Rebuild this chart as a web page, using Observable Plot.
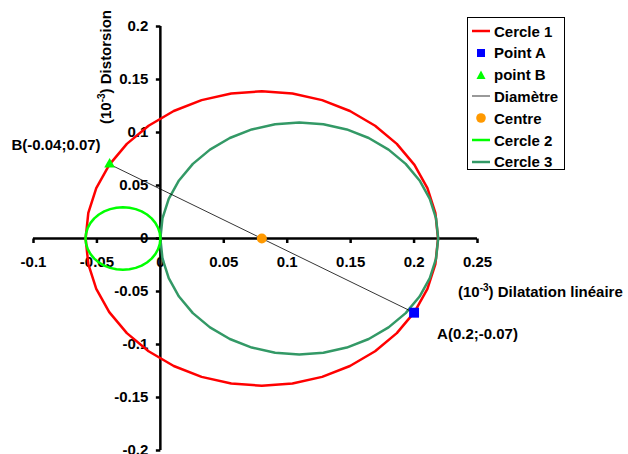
<!DOCTYPE html>
<html>
<head>
<meta charset="utf-8">
<script src="https://cdn.jsdelivr.net/npm/d3@7"></script>
<script src="https://cdn.jsdelivr.net/npm/@observablehq/plot@0.6"></script>
<style>
  html, body { margin: 0; padding: 0; background: #fff; }
  #wrap { position: relative; width: 628px; height: 454px; overflow: hidden;
          font-family: Arial, "Liberation Sans", sans-serif; font-weight: bold; }
  #legend { position: absolute; left: 467px; top: 17px; width: 96px; height: 151px;
            border: 1px solid #000; background: #fff; font-size: 15px; }
  .row { position: absolute; left: 0; height: 20px; display: flex; align-items: center; white-space: nowrap; }
  .row svg { margin-left: 4px; margin-right: 4px; }
</style>
</head>
<body>
<div id="wrap"><div id="chart"></div><div id="legend"></div></div>
<script>
// ---- data ----
const xTicks = [-0.1, -0.05, 0, 0.05, 0.1, 0.15, 0.2, 0.25];
const yTicks = [0.2, 0.15, 0.1, 0.05, 0, -0.05, -0.1, -0.15, -0.2];
const circleNames   = ["Cercle 1", "Cercle 2", "Cercle 3"];
const circleCenters = [0.08, -0.0295, 0.1095];
const circleRadii   = [0.1389, 0.0295, 0.1095];
const circleColors  = ["#ff0000", "#00ff00", "#339966"];
const pointA = {x: 0.2, y: -0.07, label: "A(0.2;-0.07)"};
const pointB = {x: -0.04, y: 0.07, label: "B(-0.04;0.07)"};
const centre = {x: 0.08, y: 0};
const legendItems = ["Cercle 1", "Point A", "point B", "Diamètre", "Centre", "Cercle 2", "Cercle 3"];

// circle outlines sampled every 10 degrees (as in the original spreadsheet)
const circlePts = [];
circleNames.forEach((name, i) => {
  for (let k = 0; k <= 36; k++) {
    const a = k * Math.PI / 18;
    circlePts.push({name, x: circleCenters[i] + circleRadii[i] * Math.cos(a), y: circleRadii[i] * Math.sin(a)});
  }
});
const colorOf = Object.fromEntries(circleNames.map((n, i) => [n, circleColors[i]]));

const tickDown = {draw(ctx) { ctx.moveTo(0, 0); ctx.lineTo(0, 4.5); }};
const tickLeft = {draw(ctx) { ctx.moveTo(0, 0); ctx.lineTo(-4.5, 0); }};

const fontSize = 15;
const chart = Plot.plot({
  width: 628, height: 454,
  marginLeft: 33, marginRight: 151, marginTop: 26, marginBottom: 4,
  x: {domain: [xTicks[0], xTicks[xTicks.length - 1]], axis: null},
  y: {domain: [yTicks[yTicks.length - 1], yTicks[0]], axis: null},
  style: {fontFamily: "Arial, 'Liberation Sans', sans-serif", fontWeight: "bold", fontSize: fontSize + "px", background: "white", overflow: "visible"},
  marks: [
    Plot.ruleY([0], {x1: xTicks[0], x2: xTicks[xTicks.length - 1], stroke: "black", strokeWidth: 2.5}),
    Plot.ruleX([0], {y1: yTicks[yTicks.length - 1], y2: yTicks[0], stroke: "black", strokeWidth: 2.5}),
    Plot.dot(xTicks, {x: d => d, y: 0, symbol: tickDown, stroke: "black", strokeWidth: 2.5, fill: "none"}),
    Plot.dot(yTicks, {x: 0, y: d => d, symbol: tickLeft, stroke: "black", strokeWidth: 2.5, fill: "none"}),
    Plot.text(xTicks, {x: d => d, y: 0, text: d => String(d), dy: 24, fill: "black"}),
    Plot.text(yTicks, {x: 0, y: d => d, text: d => String(d), dx: -12, textAnchor: "end", fill: "black"}),
    Plot.line(circlePts.filter(d => d.name === "Cercle 1"), {x: "x", y: "y", stroke: colorOf["Cercle 1"], strokeWidth: 2.5}),
    Plot.line(circlePts.filter(d => d.name === "Cercle 3"), {x: "x", y: "y", stroke: colorOf["Cercle 3"], strokeWidth: 2.5}),
    Plot.line(circlePts.filter(d => d.name === "Cercle 2"), {x: "x", y: "y", stroke: colorOf["Cercle 2"], strokeWidth: 2.5}),
    Plot.link([{a: pointB, b: pointA}], {x1: d => d.a.x, y1: d => d.a.y, x2: d => d.b.x, y2: d => d.b.y, stroke: "black", strokeWidth: 0.8}),
    Plot.dot([centre], {x: "x", y: "y", r: 5, fill: "#ff9900", stroke: "none"}),
    Plot.dot([pointB], {x: "x", y: "y", symbol: "triangle", r: 4, fill: "#00ff00", stroke: "none"}),
    Plot.dot([pointA], {x: "x", y: "y", symbol: "square", r: 5.6, fill: "#0000ff", stroke: "none"}),
    Plot.text([pointB], {x: "x", y: "y", text: "label", dx: -9, dy: -19, textAnchor: "end", fill: "black"}),
    Plot.text([pointA], {x: "x", y: "y", text: "label", dx: 23, dy: 21, textAnchor: "start", fill: "black"})
  ]
});
document.getElementById("chart").appendChild(chart);

// axis titles with superscript exponent
const svg = d3.select(chart);
const yt = svg.append("text").attr("transform", "translate(111,67) rotate(-90)")
  .attr("text-anchor", "middle").attr("font-size", fontSize).attr("font-weight", "bold").attr("fill", "black");
yt.append("tspan").text("(10");
yt.append("tspan").attr("dy", -6).attr("font-size", 10).text("-3");
yt.append("tspan").attr("dy", 6).text(") Distorsion");
const xt = svg.append("text").attr("x", 458).attr("y", 297).attr("text-anchor", "start")
  .attr("font-size", fontSize).attr("font-weight", "bold").attr("fill", "black");
xt.append("tspan").text("(10");
xt.append("tspan").attr("dy", -6).attr("font-size", 10).text("-3");
xt.append("tspan").attr("dy", 6).text(") Dilatation linéaire");

// legend
const swatch = {
  "Cercle 1": `<line x1="0" y1="6" x2="18" y2="6" stroke="#ff0000" stroke-width="2.5"/>`,
  "Point A": `<rect x="5" y="2" width="8" height="8" fill="#0000ff"/>`,
  "point B": `<path d="M9,1.5 L13.5,10 L4.5,10 Z" fill="#00ff00"/>`,
  "Diamètre": `<line x1="0" y1="6" x2="18" y2="6" stroke="#808080" stroke-width="1.6"/>`,
  "Centre": `<circle cx="9" cy="6" r="4.8" fill="#ff9900"/>`,
  "Cercle 2": `<line x1="0" y1="6" x2="18" y2="6" stroke="#00ff00" stroke-width="2.5"/>`,
  "Cercle 3": `<line x1="0" y1="6" x2="18" y2="6" stroke="#339966" stroke-width="2.5"/>`
};
const legend = document.getElementById("legend");
legendItems.forEach((name, i) => {
  const row = document.createElement("div");
  row.className = "row";
  row.style.top = (3 + i * 21.8) + "px";
  row.innerHTML = `<svg width="18" height="12">${swatch[name]}</svg><span>${name}</span>`;
  legend.appendChild(row);
});
</script>
</body>
</html>
